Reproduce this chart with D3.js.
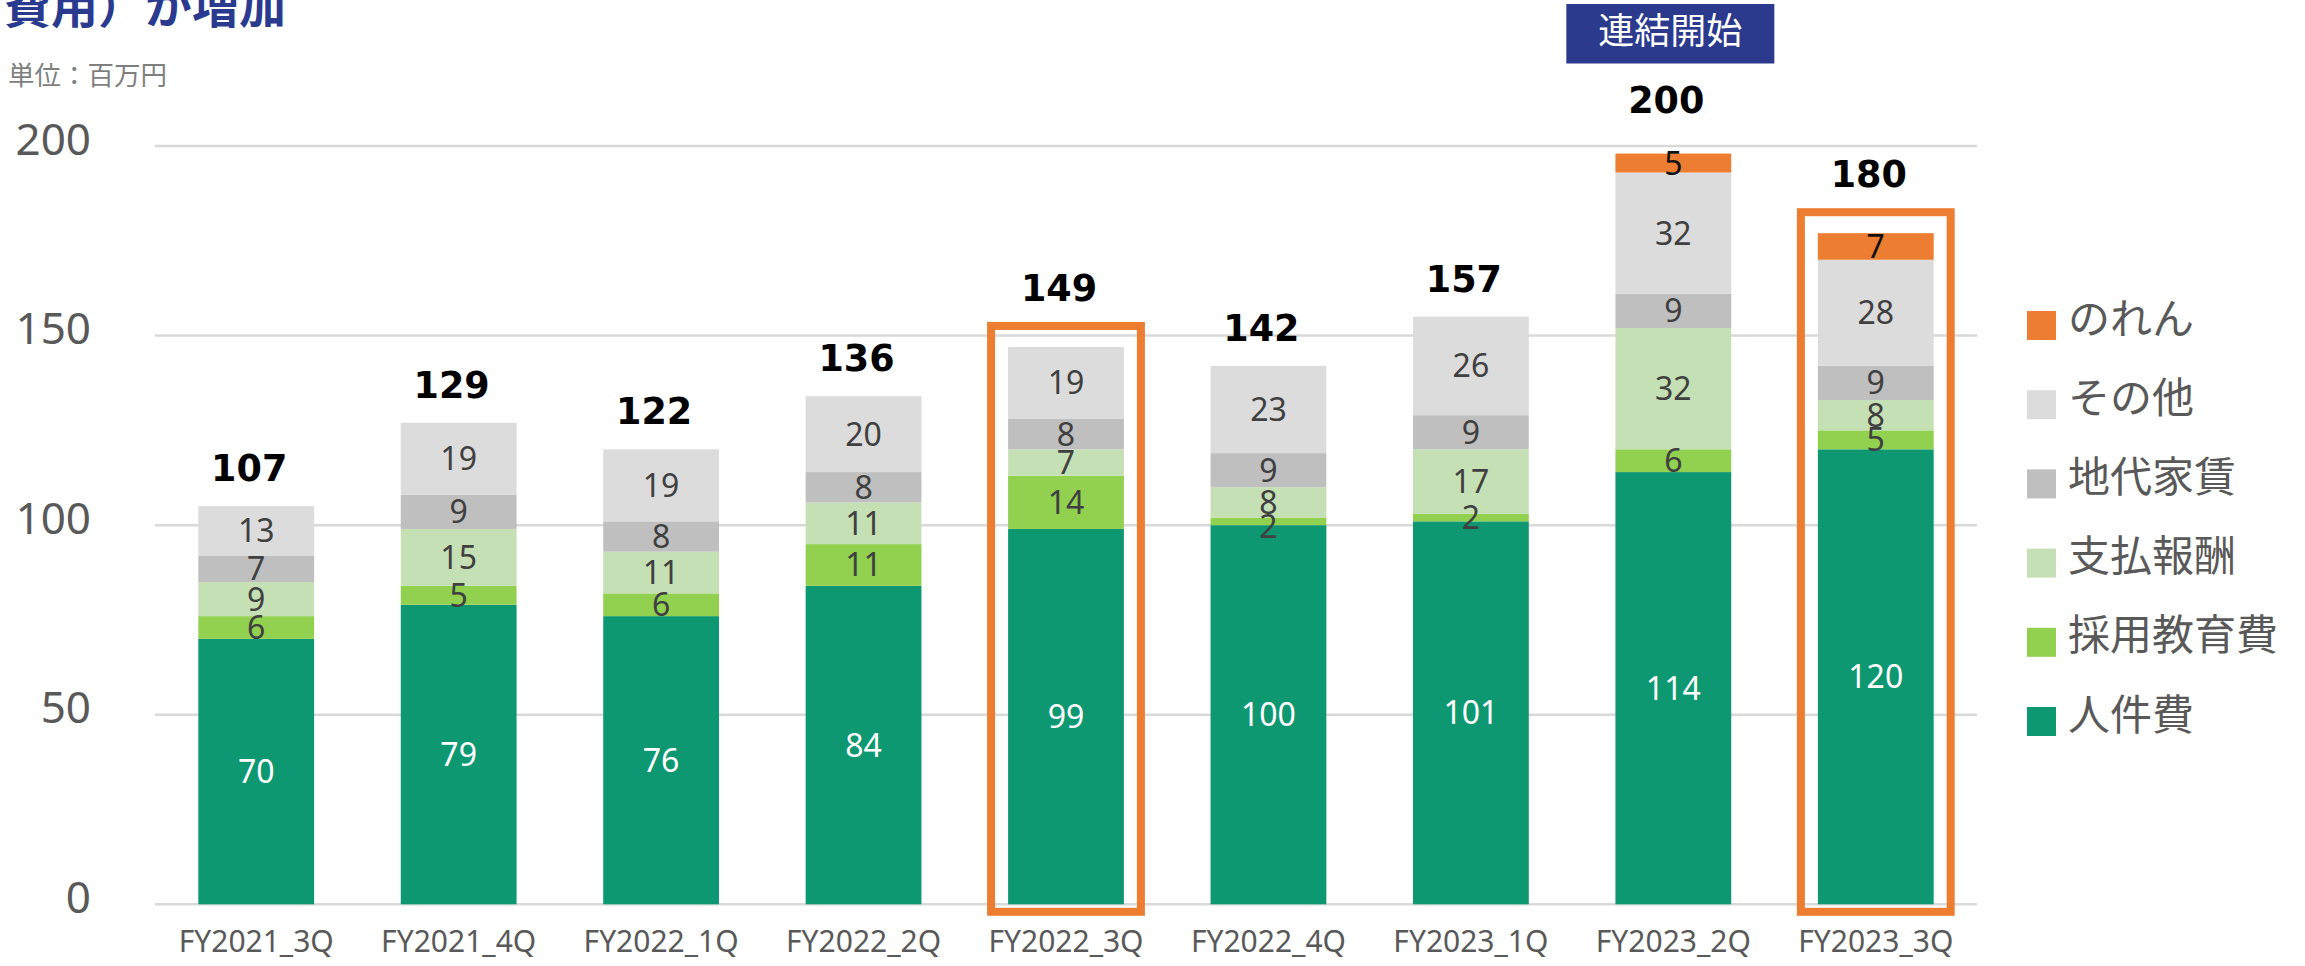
<!DOCTYPE html>
<html>
<head>
<meta charset="utf-8">
<script src="https://cdn.jsdelivr.net/npm/d3@7"></script>
<style>
  html, body { margin: 0; padding: 0; background: #ffffff; }
  svg { display: block; }
</style>
</head>
<body>
<svg id="chart" width="2305" height="966"></svg>
<script>
// ---------------- data ----------------
const categories = ["FY2021_3Q","FY2021_4Q","FY2022_1Q","FY2022_2Q","FY2022_3Q","FY2022_4Q","FY2023_1Q","FY2023_2Q","FY2023_3Q"];
const seriesNames = ["人件費","採用教育費","支払報酬","地代家賃","その他","のれん"];
const jinkenhi   = [70, 79, 76, 84, 99, 100, 101, 114, 120];
const saiyou     = [6, 5, 6, 11, 14, 2, 2, 6, 5];
const shiharai   = [9, 15, 11, 11, 7, 8, 17, 32, 8];
const chidai     = [7, 9, 8, 8, 8, 9, 9, 9, 9];
const sonota     = [13, 19, 19, 20, 19, 23, 26, 32, 28];
const noren      = [0, 0, 0, 0, 0, 0, 0, 5, 7];
const totals     = [107, 129, 122, 136, 149, 142, 157, 200, 180];
const highlighted = ["FY2022_3Q","FY2023_3Q"];
const consolidatedStart = "FY2023_2Q";
const yTicks = [0, 50, 100, 150, 200];
const seriesColors = ["#0D9871","#92D050","#C5E0B4","#BFBFBF","#DCDCDC","#ED7D31"];

// ---------------- build ----------------
const seriesValues = [jinkenhi, saiyou, shiharai, chidai, sonota, noren];
const rows = categories.map((c, i) => {
  const r = { cat: c };
  seriesNames.forEach((s, k) => r[s] = seriesValues[k][i]);
  return r;
});
const stacked = d3.stack().keys(seriesNames)(rows);
const sums = rows.map(r => d3.sum(seriesNames, s => r[s]));

const svg = d3.select("#chart");
const x = d3.scaleBand().domain(categories).range([155, 1977]).paddingInner(0.428).paddingOuter(0.214);
const y = d3.scaleLinear().domain([0, 200]).range([904.3, 146]);
const bw = x.bandwidth();

const NUM = "'Noto Sans', 'Liberation Sans', sans-serif";
const CJK = "'Noto Sans CJK JP', 'Noto Sans', sans-serif";

// title (partially cut at the top)
svg.append("text").attr("x", 4).attr("y", 23)
  .attr("font-family", CJK).attr("font-weight", 700).attr("font-size", 47)
  .attr("fill", "#2A3A8F").text("費用）が増加");

svg.append("text").attr("x", 8).attr("y", 85)
  .attr("font-family", CJK).attr("font-size", 26.5)
  .attr("fill", "#7F7F7F").text("単位：百万円");

// gridlines
svg.append("g").selectAll("line").data(yTicks).join("line")
  .attr("x1", x.range()[0]).attr("x2", x.range()[1])
  .attr("y1", d => y(d)).attr("y2", d => y(d))
  .attr("stroke", "#D9D9D9").attr("stroke-width", 2.5);

// y axis labels
const yAxis = svg.append("g").attr("transform", "translate(91,0)")
  .call(d3.axisLeft(y).tickValues(yTicks).tickSize(0).tickPadding(0));
yAxis.select(".domain").remove();
yAxis.selectAll("text").attr("dy", 0).attr("y", 8)
  .attr("font-family", NUM).attr("font-size", 44).attr("fill", "#595959");

// x axis labels
const xAxis = svg.append("g").attr("transform", `translate(0,${y(0)})`)
  .call(d3.axisBottom(x).tickSize(0).tickPadding(0));
xAxis.select(".domain").remove();
xAxis.selectAll("text").attr("dy", 0).attr("y", 48)
  .attr("font-family", NUM).attr("font-size", 30).attr("fill", "#595959");

// bars
const layers = svg.append("g").selectAll("g").data(stacked).join("g")
  .attr("fill", (d, i) => seriesColors[i]);
layers.selectAll("rect").data(d => d).join("rect")
  .attr("x", d => x(d.data.cat))
  .attr("width", bw)
  .attr("y", d => y(d[1]))
  .attr("height", d => y(d[0]) - y(d[1]));

// highlight boxes
const boxPad = 17, boxTopGap = 21;
svg.append("g").selectAll("rect").data(highlighted).join("rect")
  .attr("x", c => x(c) - boxPad)
  .attr("width", bw + 2 * boxPad)
  .attr("y", c => y(sums[categories.indexOf(c)]) - boxTopGap)
  .attr("height", c => y(0) + 7.5 - (y(sums[categories.indexOf(c)]) - boxTopGap))
  .attr("fill", "none").attr("stroke", "#ED7D31").attr("stroke-width", 8);

// segment labels (top-down with simple collision avoidance)
const segLabels = [];
categories.forEach((c, i) => {
  let prev = -Infinity;
  for (let k = seriesNames.length - 1; k >= 0; k--) {
    const seg = stacked[k][i];
    const v = seg[1] - seg[0];
    if (!v) continue;
    let cy = (y(seg[0]) + y(seg[1])) / 2;
    if (cy < prev + 24) cy = prev + 24;
    prev = cy;
    segLabels.push({ c, k, v, cy });
  }
});
svg.append("g").selectAll("text").data(segLabels).join("text")
  .attr("x", d => x(d.c) + bw / 2)
  .attr("y", d => d.cy + 0.36 * 32)
  .attr("text-anchor", "middle")
  .attr("font-family", NUM).attr("font-size", 32)
  .attr("fill", d => d.k === 0 ? "#FFFFFF" : (d.k === 5 ? "#111111" : "#404040"))
  .text(d => d.v);

// 連結開始 annotation geometry
const annTop = 4, annH = 59.5;
const annX = x(consolidatedStart) + bw / 2 - 3;

// total labels
function totalBaseline(c, i) {
  const top = y(sums[i]);
  if (highlighted.includes(c)) return top - boxTopGap - 25;
  if (c === consolidatedStart) return (annTop + annH + top) / 2 + 4;
  return top - 25;
}
svg.append("g").selectAll("text").data(categories).join("text")
  .attr("x", c => x(c) + bw / 2 - 7)
  .attr("y", (c, i) => totalBaseline(c, i))
  .attr("text-anchor", "middle")
  .attr("font-family", "'DejaVu Sans', sans-serif").attr("font-weight", 700).attr("font-size", 36.5)
  .attr("fill", "#000000")
  .text((c, i) => totals[i]);

// 連結開始 annotation
const ann = svg.append("g");
ann.append("rect").attr("x", annX - 104).attr("y", annTop).attr("width", 208).attr("height", annH)
  .attr("fill", "#2B3A8C");
ann.append("text").attr("x", annX).attr("y", 30 + 0.38 * 36)
  .attr("text-anchor", "middle").attr("font-family", CJK).attr("font-size", 36)
  .attr("fill", "#FFFFFF").text("連結開始");

// legend
const legendOrder = seriesNames.map((s, k) => k).reverse();
const lg = svg.append("g").selectAll("g").data(legendOrder).join("g")
  .attr("transform", (k, j) => `translate(2027,${325.5 + j * 79.2})`);
lg.append("rect").attr("x", 0).attr("y", -14.5).attr("width", 29).attr("height", 29)
  .attr("fill", k => seriesColors[k]);
lg.append("text").attr("x", 41).attr("y", 8)
  .attr("font-family", CJK).attr("font-size", 42).attr("fill", "#595959")
  .text(k => seriesNames[k]);
</script>
</body>
</html>
